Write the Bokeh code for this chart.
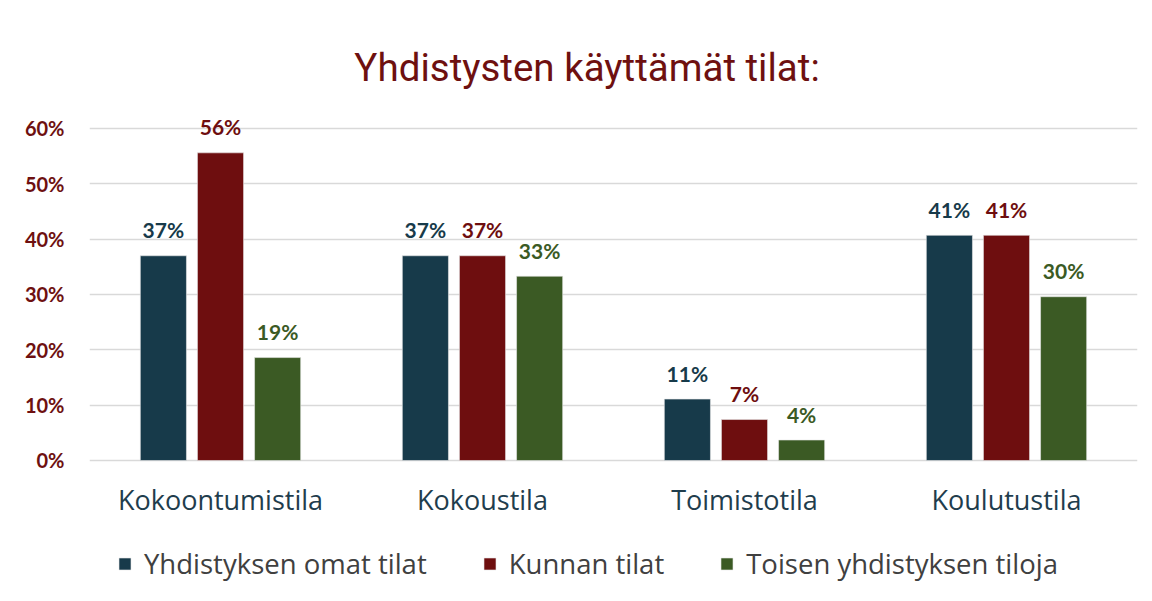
from bokeh.plotting import figure
from bokeh.models import ColumnDataSource, FactorRange, Range1d, NumeralTickFormatter, Legend, LegendItem, Label, FixedTicker
from bokeh.transform import dodge
from bokeh.core.properties import value
from bokeh.embed import file_html
from bokeh.resources import INLINE

categories = ["Kokoontumistila", "Kokoustila", "Toimistotila", "Koulutustila"]
series_names = ["Yhdistyksen omat tilat", "Kunnan tilat", "Toisen yhdistyksen tiloja"]
omat = [0.370, 0.370, 0.111, 0.407]
kunnan = [0.556, 0.370, 0.074, 0.407]
toisen = [0.186, 0.333, 0.037, 0.296]
colors = ["#173a4a", "#6e0e0f", "#3b5a24"]
title_text = "Yhdistysten käyttämät tilat:"
y_ticks = [0, 0.1, 0.2, 0.3, 0.4, 0.5, 0.6]

def pct(vals):
    return [f"{int(v * 100 + 0.5)}%" for v in vals]

src = ColumnDataSource(dict(
    cat=categories,
    omat=omat, kunnan=kunnan, toisen=toisen,
    omat_l=pct(omat), kunnan_l=pct(kunnan), toisen_l=pct(toisen),
))

W, H = 1152, 601
p = figure(x_range=FactorRange(*categories), y_range=Range1d(-0.244, 0.8024),
           width=W, height=H, output_backend="svg", toolbar_location=None,
           min_border_left=89, min_border_right=15, min_border_top=16, min_border_bottom=6)
p.outline_line_color = None
p.background_fill_color = "white"
p.border_fill_color = "white"

offs = [-0.218, 0.0, 0.218]
bw = 0.176
items = []
for field, col, off, name in zip(["omat", "kunnan", "toisen"], colors, offs, series_names):
    r = p.vbar(x=dodge("cat", off, range=p.x_range), top=field, width=bw, source=src,
               fill_color=col, line_color="#e8e8e8", line_width=0.6)
    p.text(x=dodge("cat", off, range=p.x_range), y=field, text=field + "_l", source=src,
           text_align="center", text_baseline="alphabetic", y_offset=-26,
           text_font=value("Lato"), text_font_style="bold", text_font_size="21px",
           text_color=col)
    items.append(LegendItem(label=name, renderers=[r]))

# title
p.add_layout(Label(x=1.899, y=0.71, text=title_text, text_align="center", text_baseline="middle",
                   text_font="Roboto", text_font_size="38.5px", text_color="#6e1010"))

# axes
p.yaxis.ticker = FixedTicker(ticks=y_ticks)
p.yaxis.formatter = NumeralTickFormatter(format="0%")
p.yaxis.axis_line_color = None
p.yaxis.major_tick_line_color = None
p.yaxis.minor_tick_line_color = None
p.yaxis.major_label_text_font = "Lato"
p.yaxis.major_label_text_font_style = "bold"
p.yaxis.major_label_text_font_size = "20px"
p.yaxis.major_label_text_color = "#6e1010"
p.yaxis.major_label_standoff = 19

p.xaxis.fixed_location = 0
p.xaxis.axis_line_color = None
p.xaxis.major_tick_line_color = None
p.xaxis.minor_tick_line_color = None
p.xaxis.major_label_text_font = "Open Sans"
p.xaxis.major_label_text_font_size = "27px"
p.xaxis.major_label_text_color = "#1f3d4d"
p.xaxis.major_label_standoff = 15

p.xgrid.grid_line_color = None
p.ygrid.ticker = FixedTicker(ticks=y_ticks)
p.ygrid.grid_line_color = "#d9d9d9"
p.ygrid.grid_line_width = 1.6

legend = Legend(items=items, orientation="horizontal", location=(28, 13),
                label_text_font="Open Sans", label_text_font_size="27.5px", label_text_color="#404040",
                glyph_width=15, glyph_height=15, label_standoff=12, spacing=55,
                border_line_color=None, background_fill_alpha=0, margin=0, padding=4)
p.add_layout(legend)

open("out.html", "w").write(file_html(p, INLINE))
